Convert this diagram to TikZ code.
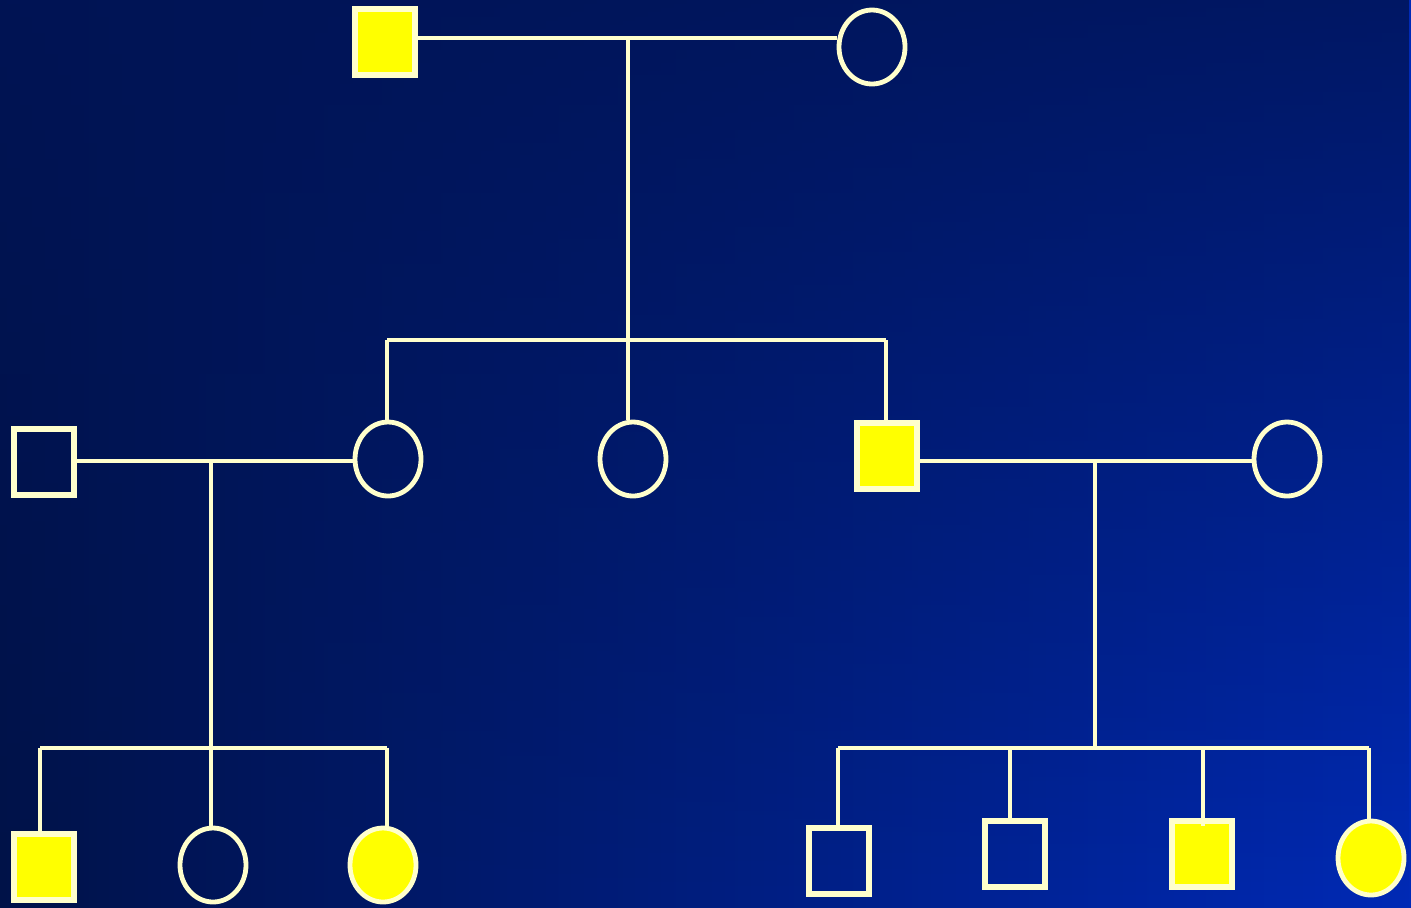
\documentclass[tikz,border=0pt]{standalone}
\usetikzlibrary{shapes.geometric, fadings, backgrounds}

\definecolor{bgleft}{RGB}{0,18,72}
\definecolor{bgmid}{RGB}{0,38,145}
\definecolor{bgright}{RGB}{0,42,182}
\definecolor{bgtop}{RGB}{0,20,86}
\definecolor{pline}{RGB}{255,255,204}
\definecolor{affected}{RGB}{255,255,0}

\tikzfading[name=topfade, top color=transparent!15, bottom color=transparent!100]

\begin{document}
\begin{tikzpicture}[
    x=0.5pt, y=-0.5pt,
    male/.style={
        rectangle,
        draw=pline,
        line width=2.6pt,
        minimum width=30pt,
        minimum height=33pt,
        inner sep=0pt
    },
    female/.style={
        ellipse,
        draw=pline,
        line width=2.4pt,
        minimum width=33pt,
        minimum height=37pt,
        inner sep=0pt
    },
    hit/.style={
        fill=affected
    },
    link/.style={
        draw=pline,
        line width=2.3pt
    }
]

% Background
\useasboundingbox (0,0) rectangle (1411,907);
\shade[left color=bgleft, middle color=bgmid, right color=bgright] (0,0) rectangle (1411,907);
\fill[bgtop, path fading=topfade] (0,0) rectangle (1411,907);

% Generation I
\node[male, hit] (g1m) at (385,42) {};
\node[female] (g1f) at (872,47) {};

% Generation II
\node[male] (g2sp) at (44,462) {};
\node[female] (g2a) at (388,459) {};
\node[female] (g2b) at (633,459) {};
\node[male, hit] (g2c) at (887,456) {};
\node[female] (g2w) at (1287,459) {};

% Generation III (left family)
\node[male, hit] (g3a) at (44,867) {};
\node[female] (g3b) at (213,865) {};
\node[female, hit] (g3c) at (383,865) {};

% Generation III (right family)
\node[male] (g3d) at (839,861) {};
\node[male] (g3e) at (1015,854) {};
\node[male, hit] (g3f) at (1202,854) {};
\node[female, hit] (g3g) at (1371,858) {};

% Couples and descent points
\coordinate (d1) at (628,38);
\coordinate (s1) at (628,340);
\coordinate (d2) at (211,461);
\coordinate (s2) at (211,748);
\coordinate (d3) at (1095,461);
\coordinate (s3) at (1095,748);

% Sibship ends / drop points
\coordinate (p1a) at (387,340);
\coordinate (p1c) at (886,340);
\coordinate (p2a) at (40,748);
\coordinate (p2c) at (387,748);
\coordinate (p3d) at (838,748);
\coordinate (p3e) at (1010,748);
\coordinate (p3f) at (1203,748);
\coordinate (p3g) at (1369,748);

% Marriage lines
\draw[link] (g1m.east |- d1) -- (g1f.west |- d1);
\draw[link] (g2sp.east |- d2) -- (g2a.west |- d2);
\draw[link] (g2c.east |- d3) -- (g2w.west |- d3);

% Descent lines
\draw[link] (d1) -- (s1);
\draw[link] (d2) -- (s2);
\draw[link] (d3) -- (s3);

% Sibship lines
\draw[link] (p1a) -- (p1c);
\draw[link] (p2a) -- (p2c);
\draw[link] (p3d) -- (p3g);

% Children
\draw[link] (p1a) -- (p1a |- g2a.north);
\draw[link] (s1) -- (s1 |- g2b.north);
\draw[link] (p1c) -- (p1c |- g2c.north);
\draw[link] (p2a) -- (p2a |- g3a.north);
\draw[link] (s2) -- (s2 |- g3b.north);
\draw[link] (p2c) -- (p2c |- g3c.north);
\draw[link] (p3d) -- (p3d |- g3d.north);
\draw[link] (p3e) -- (p3e |- g3e.north);
\draw[link] (p3f) -- ++(0,78);
\draw[link] (p3g) -- (p3g |- g3g.north);

\end{tikzpicture}
\end{document}
